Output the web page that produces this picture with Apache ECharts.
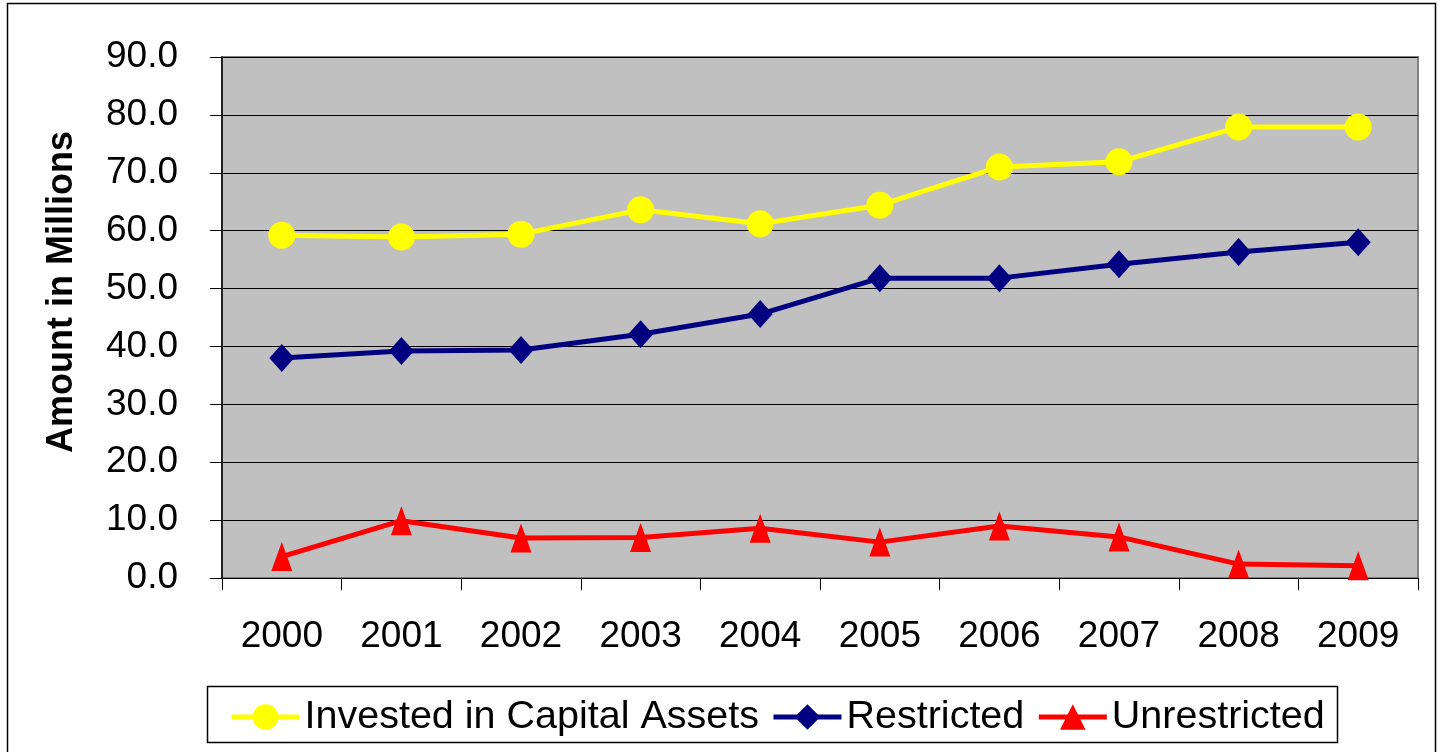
<!DOCTYPE html>
<html><head><meta charset="utf-8">
<script src="https://cdn.jsdelivr.net/npm/echarts@6/dist/echarts.min.js"></script>
<style>html,body{margin:0;padding:0;background:#fff}#c{width:1442px;height:752px}</style>
</head><body><div id="c"></div>
<script>
const years = ['2000','2001','2002','2003','2004','2005','2006','2007','2008','2009'];
const invested = [59.2, 58.9, 59.4, 63.6, 61.2, 64.4, 71.0, 71.9, 77.9, 77.9];
const restricted = [38.0, 39.2, 39.4, 42.1, 45.6, 51.8, 51.8, 54.2, 56.3, 58.0];
const unrestricted = [3.7, 9.9, 6.9, 7.0, 8.6, 6.2, 9.0, 7.1, 2.4, 2.1];
const yTicks = {min: 0, max: 90, interval: 10};
const yTitle = 'Amount in Millions';

const font = 'Liberation Sans, Arial, sans-serif';
const chart = echarts.init(document.getElementById('c'));
chart.setOption({
  animation: false,
  backgroundColor: '#fff',
  graphic: [
    {type: 'rect', shape: {x: 7.5, y: 3.5, width: 1428, height: 760}, style: {fill: 'none', stroke: '#000', lineWidth: 1.5}, z: 0},
    {type: 'rect', shape: {x: 207.5, y: 686.5, width: 1130, height: 56}, style: {fill: '#fff', stroke: '#000', lineWidth: 1.5}, z: 0},
    {type: 'text', x: 62, y: 292, rotation: Math.PI / 2,
     style: {text: yTitle, fontFamily: font, fontSize: 36, fontWeight: 'bold', fill: '#000', align: 'center', verticalAlign: 'middle'}}
  ],
  grid: {left: 222, top: 57, right: 24, bottom: 174, show: true, backgroundColor: '#C0C0C0', borderColor: '#808080', borderWidth: 2},
  legend: {
    top: 692, left: 224, itemGap: 12, itemWidth: 68, itemHeight: 32,
    lineStyle: {width: 5},
    textStyle: {fontFamily: font, fontSize: 39.5, color: '#000'},
    data: ['Invested in Capital Assets', 'Restricted', 'Unrestricted']
  },
  xAxis: {
    type: 'category', data: years, boundaryGap: true,
    axisLine: {lineStyle: {color: '#000', width: 1}},
    axisTick: {show: true, length: 12, lineStyle: {color: '#000'}},
    axisLabel: {fontFamily: font, fontSize: 37, color: '#000', margin: 40}
  },
  yAxis: {
    type: 'value', min: yTicks.min, max: yTicks.max, interval: yTicks.interval,
    axisLine: {show: true, lineStyle: {color: '#000', width: 1.5}},
    axisTick: {show: true, length: 12, lineStyle: {color: '#000'}},
    axisLabel: {fontFamily: font, fontSize: 37, color: '#000', margin: 44, formatter: v => v.toFixed(1)},
    splitLine: {lineStyle: {color: '#000', width: 1}}
  },
  series: [
    {name: 'Invested in Capital Assets', type: 'line', data: invested, symbol: 'circle', symbolSize: 27,
     itemStyle: {color: '#FFFF00'}, lineStyle: {color: '#FFFF00', width: 5}},
    {name: 'Restricted', type: 'line', data: restricted, symbol: 'diamond', symbolSize: [25, 28],
     itemStyle: {color: '#000080'}, lineStyle: {color: '#000080', width: 5}},
    {name: 'Unrestricted', type: 'line', data: unrestricted, symbol: 'triangle', symbolSize: [21, 29],
     itemStyle: {color: '#FF0000'}, lineStyle: {color: '#FF0000', width: 5}}
  ]
});
</script></body></html>
